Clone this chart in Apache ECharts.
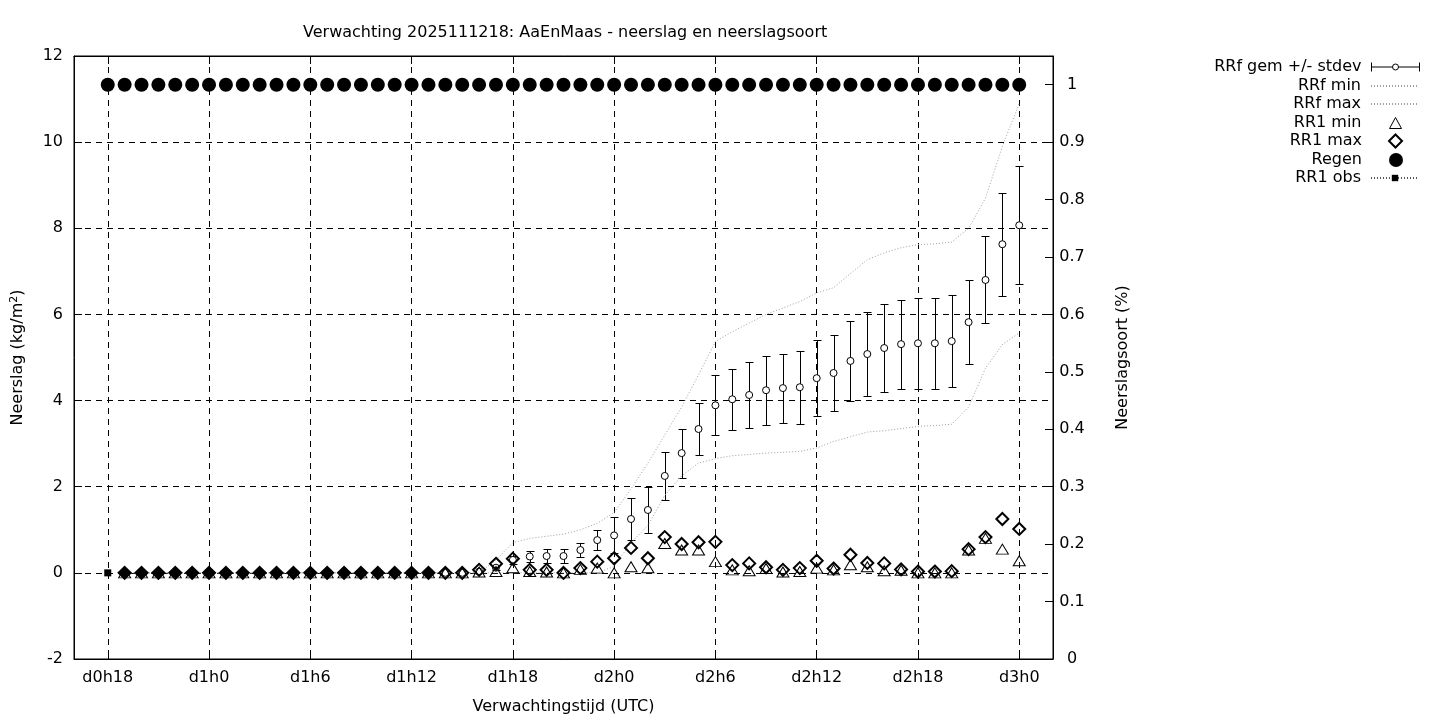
<!DOCTYPE html>
<html><head><meta charset="utf-8">
<script src="https://cdn.jsdelivr.net/npm/echarts@6/dist/echarts.min.js"></script>
<style>html,body{margin:0;padding:0;background:#fff}#c{width:1440px;height:720px}</style>
</head><body><div id="c"></div>
<script>
// ---- data (hours since d0h0) ----
const hours = [19,20,21,22,23,24,25,26,27,28,29,30,31,32,33,34,35,36,37,38,39,40,41,42,43,44,45,46,47,48,49,50,51,52,53,54,55,56,57,58,59,60,61,62,63,64,65,66,67,68,69,70,71,72];
const rrfMean = [0,0,0,0,0,0,0,0,0,0,0,0,0,0,0,0,0,0,0,0,0,
  0.03,0.12,0.30,0.38,0.39,0.39,0.53,0.76,0.87,1.25,1.46,2.25,2.78,3.34,3.89,4.03,4.13,4.24,4.29,4.31,4.52,4.64,4.92,5.08,5.22,5.31,5.33,5.33,5.38,5.82,6.80,7.63,8.07];
const rrfStd = [0,0,0,0,0,0,0,0,0,0,0,0,0,0,0,0,0,0,0,0,0,
  0.02,0.06,0.10,0.12,0.17,0.17,0.16,0.24,0.42,0.48,0.54,0.56,0.57,0.60,0.70,0.71,0.76,0.80,0.80,0.85,0.88,0.89,0.92,0.97,1.02,1.03,1.05,1.06,1.06,0.98,1.01,1.20,1.37];
const rrfMin = [0,0,0,0,0,0,0,0,0,0,0,0,0,0,0,0,0,0,0,0,0,0,0,0,0,0,0,0,0,
  0.15,0.70,1.10,1.80,2.25,2.55,2.65,2.72,2.75,2.78,2.80,2.82,2.90,3.05,3.16,3.27,3.30,3.35,3.40,3.42,3.45,3.85,4.75,5.30,5.57];
const rrfMax = [0,0,0,0,0,0,0,0,0,0,0,0,0,0,0,0,0,0,0,0,0,0,
  0.30,0.70,0.80,0.85,0.90,1.00,1.15,1.40,1.95,2.55,3.20,3.85,4.60,5.37,5.60,5.80,6.00,6.15,6.30,6.50,6.62,6.95,7.27,7.43,7.55,7.62,7.64,7.68,8.00,8.70,9.90,10.90];
const rr1Min = [0,0,0,0,0,0,0,0,0,0,0,0,0,0,0,0,0,0,0,0,0,
  0.02,0.03,0.12,0.03,0.02,0.00,0.08,0.11,0.00,0.14,0.12,0.68,0.53,0.53,0.26,0.07,0.05,0.10,0.02,0.03,0.11,0.07,0.19,0.14,0.05,0.06,0.00,0.00,0.00,0.53,0.80,0.55,0.28];
const rr1Max = [0,0,0,0,0,0,0,0,0,0,0,0,0,0,0,0,0,0,0,0,0,
  0.07,0.21,0.33,0.07,0.07,0.00,0.11,0.26,0.34,0.58,0.34,0.83,0.67,0.71,0.72,0.18,0.22,0.13,0.07,0.11,0.28,0.10,0.42,0.23,0.22,0.08,0.03,0.03,0.04,0.55,0.83,1.25,1.02];
const regenHours = [18,19,20,21,22,23,24,25,26,27,28,29,30,31,32,33,34,35,36,37,38,39,40,41,42,43,44,45,46,47,48,49,50,51,52,53,54,55,56,57,58,59,60,61,62,63,64,65,66,67,68,69,70,71,72];
const regen = [1,1,1,1,1,1,1,1,1,1,1,1,1,1,1,1,1,1,1,1,1,1,1,1,1,1,1,1,1,1,1,1,1,1,1,1,1,1,1,1,1,1,1,1,1,1,1,1,1,1,1,1,1,1,1];
const obsHours = [18];
const obsValues = [0];
const xTickHours = [18,24,30,36,42,48,54,60,66,72];
const xTickLabels = ['d0h18','d1h0','d1h6','d1h12','d1h18','d2h0','d2h6','d2h12','d2h18','d3h0'];
const y2Ticks = [0,0.1,0.2,0.3,0.4,0.5,0.6,0.7,0.8,0.9,1];
const y2Labels = ['0','0.1','0.2','0.3','0.4','0.5','0.6','0.7','0.8','0.9','1'];
// hours up to which the RR1 max diamonds are drawn filled (dry-period look of the reference)
const filledUntilHour = 37;

// ---- build ----
const FONT = 'DejaVu Sans';
const FS = 16;
const pairs = (xs, ys) => xs.map((x, i) => [x, ys[i]]);
const errData = hours.map((h, i) => [h, rrfMean[i] - rrfStd[i], rrfMean[i] + rrfStd[i]]);
const xLabelMap = {}; xTickHours.forEach((h, i) => xLabelMap[h] = xTickLabels[i]);
const y2LabelMap = {}; y2Ticks.forEach((v, i) => y2LabelMap[v.toFixed(1)] = y2Labels[i]);
const rr1MaxData = hours.map((h, i) => h <= filledUntilHour
  ? {value: [h, rr1Max[i]], itemStyle: {color: '#000'}}
  : {value: [h, rr1Max[i]]});

const chart = echarts.init(document.getElementById('c'), null, {renderer: 'canvas'});
const dash = [6, 5];
const dotted = [1, 2];
const noSym = {color: 'rgba(0,0,0,0)', borderColor: 'rgba(0,0,0,0)', borderWidth: 0};

function legendItem(top, right, pad, itemW, itemH, data) {
  return {
    orient: 'vertical', align: 'right', right: right, top: top, padding: 0,
    itemWidth: itemW, itemHeight: itemH, selectedMode: false,
    textStyle: {fontFamily: FONT, fontSize: FS, color: '#000', padding: [0, pad, 0, 0], lineHeight: 16},
    data: [data]
  };
}

const option = {
  animation: false,
  backgroundColor: '#fff',
  title: {
    text: 'Verwachting 2025111218: AaEnMaas - neerslag en neerslagsoort',
    left: 298, top: 20,
    textStyle: {fontFamily: FONT, fontSize: FS, fontWeight: 'normal', color: '#000'}
  },
  legend: [
    legendItem(59, 20, 5, 48, 9, {name: 'RRf gem +/- stdev',
      icon: 'path://M0,0L0,9M0,4.5L21,4.5M27,4.5L48,4.5M48,0L48,9M27,4.5A3,3,0,1,1,21,4.5A3,3,0,1,1,27,4.5',
      itemStyle: {color: '#fff', borderColor: '#000', borderWidth: 1}}),
    legendItem(78, 20, 5, 48, 8, {name: 'RRf min', itemStyle: noSym}),
    legendItem(96, 20, 5, 48, 8, {name: 'RRf max', itemStyle: noSym}),
    legendItem(115, 38, 23, 12, 11, {name: 'RR1 min', icon: 'triangle',
      itemStyle: {color: '#fff', borderColor: '#000', borderWidth: 1}}),
    legendItem(133, 37, 22, 13, 13, {name: 'RR1 max', icon: 'diamond',
      itemStyle: {color: '#fff', borderColor: '#000', borderWidth: 2}}),
    legendItem(152, 37, 22, 14, 14, {name: 'Regen', icon: 'circle',
      itemStyle: {color: '#000', borderWidth: 0}}),
    legendItem(170, 20, 5, 48, 8, {name: 'RR1 obs'})
  ],
  grid: {left: 74, right: 387, top: 56, bottom: 61, show: true, borderColor: '#000', borderWidth: 1, backgroundColor: 'transparent'},
  xAxis: [{
    type: 'value', min: 16, max: 74, position: 'bottom',
    name: 'Verwachtingstijd (UTC)', nameLocation: 'middle', nameGap: 40,
    nameTextStyle: {fontFamily: FONT, fontSize: FS, color: '#000'},
    axisLine: {show: true, onZero: false, lineStyle: {color: '#000', width: 1}},
    axisTick: {show: true, inside: true, length: 8, customValues: xTickHours, lineStyle: {color: '#000'}},
    axisLabel: {customValues: xTickHours, margin: 11, fontFamily: FONT, fontSize: FS, color: '#000',
      formatter: v => xLabelMap[Math.round(v)] || ''},
    splitLine: {show: true, lineStyle: {color: '#000', type: dash, width: 1}}
  }, {
    type: 'value', min: 16, max: 74, position: 'top',
    axisLine: {show: true, onZero: false, lineStyle: {color: '#000'}},
    axisTick: {show: true, inside: true, length: 8, customValues: xTickHours, lineStyle: {color: '#000'}},
    axisLabel: {show: false}, splitLine: {show: false}
  }],
  yAxis: [{
    type: 'value', min: -2, max: 12, interval: 2, position: 'left',
    name: 'Neerslag (kg/m{sup|2})', nameLocation: 'middle', nameGap: 47, nameRotate: 90,
    nameTextStyle: {fontFamily: FONT, fontSize: FS, color: '#000',
      rich: {sup: {fontFamily: FONT, fontSize: 11, color: '#000', verticalAlign: 'top', padding: [0, 0, 7, 0]}}},
    axisLine: {show: true, onZero: false, lineStyle: {color: '#000'}},
    axisTick: {show: true, inside: true, length: 8, lineStyle: {color: '#000'}},
    axisLabel: {margin: 11, fontFamily: FONT, fontSize: FS, color: '#000'},
    splitLine: {show: true, lineStyle: {color: '#000', type: dash, width: 1}}
  }, {
    type: 'value', min: 0, max: 1.05, position: 'right',
    name: 'Neerslagsoort (%)', nameLocation: 'middle', nameGap: 62, nameRotate: 90,
    nameTextStyle: {fontFamily: FONT, fontSize: FS, color: '#000', verticalAlign: 'top'},
    axisLine: {show: true, onZero: false, lineStyle: {color: '#000'}},
    axisTick: {show: true, inside: true, length: 8, customValues: y2Ticks, lineStyle: {color: '#000'}},
    axisLabel: {customValues: y2Ticks, margin: 19, align: 'center', fontFamily: FONT, fontSize: FS, color: '#000',
      formatter: v => y2LabelMap[(Math.round(v * 10) / 10).toFixed(1)] || ''},
    splitLine: {show: false}
  }],
  series: [
    {
      name: 'RRf gem +/- stdev err', type: 'custom', xAxisIndex: 0, yAxisIndex: 0, z: 3,
      data: errData,
      renderItem: function (params, api) {
        const x = api.value(0);
        const lo = api.coord([x, api.value(1)]);
        const hi = api.coord([x, api.value(2)]);
        const px = Math.round(lo[0]) + 0.5;
        const yl = Math.round(lo[1]) + 0.5, yh = Math.round(hi[1]) + 0.5;
        const c = 4;
        const st = {stroke: '#000', lineWidth: 1};
        return {type: 'group', children: [
          {type: 'line', shape: {x1: px, y1: yl, x2: px, y2: yh}, style: st},
          {type: 'line', shape: {x1: px - c, y1: yl, x2: px + c, y2: yl}, style: st},
          {type: 'line', shape: {x1: px - c, y1: yh, x2: px + c, y2: yh}, style: st}
        ]};
      },
      silent: true
    },
    {
      name: 'RRf gem +/- stdev', type: 'scatter', z: 4, data: pairs(hours, rrfMean),
      symbol: 'circle', symbolSize: 7,
      itemStyle: {color: '#fff', borderColor: '#000', borderWidth: 1, opacity: 1}
    },
    {
      name: 'RRf min', type: 'line', z: 3, data: pairs(hours, rrfMin), symbol: 'none',
      lineStyle: {color: '#a0a0a0', width: 1, type: dotted}, itemStyle: {color: '#a0a0a0'}
    },
    {
      name: 'RRf max', type: 'line', z: 3, data: pairs(hours, rrfMax), symbol: 'none',
      lineStyle: {color: '#a0a0a0', width: 1, type: dotted}, itemStyle: {color: '#a0a0a0'}
    },
    {
      name: 'RR1 min', type: 'scatter', z: 5, data: pairs(hours, rr1Min),
      symbol: 'triangle', symbolSize: [12, 10],
      itemStyle: {color: 'rgba(255,255,255,0)', borderColor: '#000', borderWidth: 1, opacity: 1}
    },
    {
      name: 'RR1 max', type: 'scatter', z: 6, data: rr1MaxData,
      symbol: 'diamond', symbolSize: 12,
      itemStyle: {color: 'rgba(255,255,255,0)', borderColor: '#000', borderWidth: 2, opacity: 1}
    },
    {
      name: 'Regen', type: 'scatter', z: 6, yAxisIndex: 1, data: pairs(regenHours, regen),
      symbol: 'circle', symbolSize: 14, itemStyle: {color: '#000', opacity: 1}
    },
    {
      name: 'RR1 obs', type: 'line', z: 7, data: pairs(obsHours, obsValues),
      symbol: 'rect', symbolSize: 7, showSymbol: true,
      lineStyle: {color: '#555', width: 1, type: dotted}, itemStyle: {color: '#000'}
    }
  ]
};
chart.setOption(option);
</script></body></html>
